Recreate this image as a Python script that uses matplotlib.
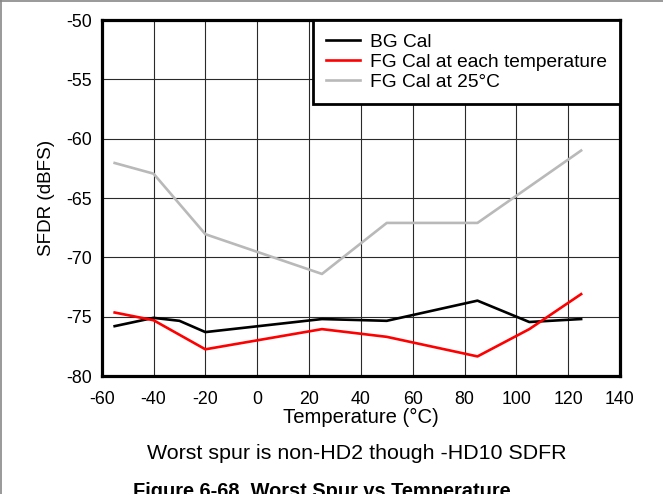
import matplotlib
matplotlib.use("Agg")
import matplotlib.pyplot as plt
from matplotlib.lines import Line2D

plt.rcParams['font.family'] = ['Liberation Sans', 'DejaVu Sans']

temp_bg = [-55, -40, -30, -20, 25, 50, 85, 105, 125]
bg_cal = [-75.8, -75.1, -75.35, -76.3, -75.2, -75.35, -73.65, -75.45, -75.2]

temp_fg = [-55, -40, -20, 25, 50, 85, 105, 125]
fg_each = [-74.65, -75.3, -77.75, -76.05, -76.7, -78.35, -76.05, -73.1]

temp_fg25 = [-55, -40, -20, 25, 50, 85, 125]
fg_25 = [-62.05, -62.95, -68.05, -71.4, -67.1, -67.1, -61.0]

xticks = [-60, -40, -20, 0, 20, 40, 60, 80, 100, 120, 140]
yticks = [-80, -75, -70, -65, -60, -55, -50]

fig = plt.figure(figsize=(6.63, 4.94), dpi=100)
ax = fig.add_axes([101.7/663, 1-376/494, (620-101.7)/663, (376-20)/494])

ax.plot(temp_bg, bg_cal, color='black', lw=1.9, label='BG Cal', zorder=3)
ax.plot(temp_fg, fg_each, color='#ff0000', lw=1.9, label='FG Cal at each temperature', zorder=3)
ax.plot(temp_fg25, fg_25, color='#b9b9b9', lw=1.9, label='FG Cal at 25\u00b0C', zorder=3)

ax.set_xlim(-60, 140)
ax.set_ylim(-80, -50)
ax.set_xticks(xticks)
ax.set_yticks(yticks)
ax.set_xticklabels([str(t) for t in xticks])
ax.set_yticklabels([str(t) for t in yticks])
ax.tick_params(length=0, labelsize=12.8)
ax.tick_params(axis='x', pad=11)
ax.tick_params(axis='y', pad=7)
ax.grid(True, color='#2a2a2a', lw=0.8)
ax.set_axisbelow(True)
for s in ax.spines.values():
    s.set_linewidth(2.3)
    s.set_color('black')

ax.set_xlabel('Temperature (\u00b0C)', fontsize=14.6, labelpad=0)
ax.set_ylabel('SFDR (dBFS)', fontsize=13.6, labelpad=8)

leg = ax.legend(loc='upper right', borderaxespad=0, fontsize=13.8, frameon=True,
                fancybox=False, handlelength=1.75, handletextpad=0.5,
                labelspacing=0.13, borderpad=0.7, edgecolor='black')
leg.get_frame().set_linewidth(2.0)
leg.get_frame().set_alpha(1)

fig.text(357/663, 1-453/494, 'Worst spur is non-HD2 though -HD10 SDFR',
         ha='center', va='center', fontsize=15.4)
fig.text(322/663, 1-482/494, 'Figure 6-68. Worst Spur vs Temperature',
         ha='center', va='top', fontsize=14.4, fontweight='bold')

fig.add_artist(Line2D([0.0015, 0.0015], [0, 1], transform=fig.transFigure, color='#888888', lw=1.2))
fig.add_artist(Line2D([0, 1], [0.998, 0.998], transform=fig.transFigure, color='#888888', lw=1.2))

fig.savefig('out.png', dpi=100)
